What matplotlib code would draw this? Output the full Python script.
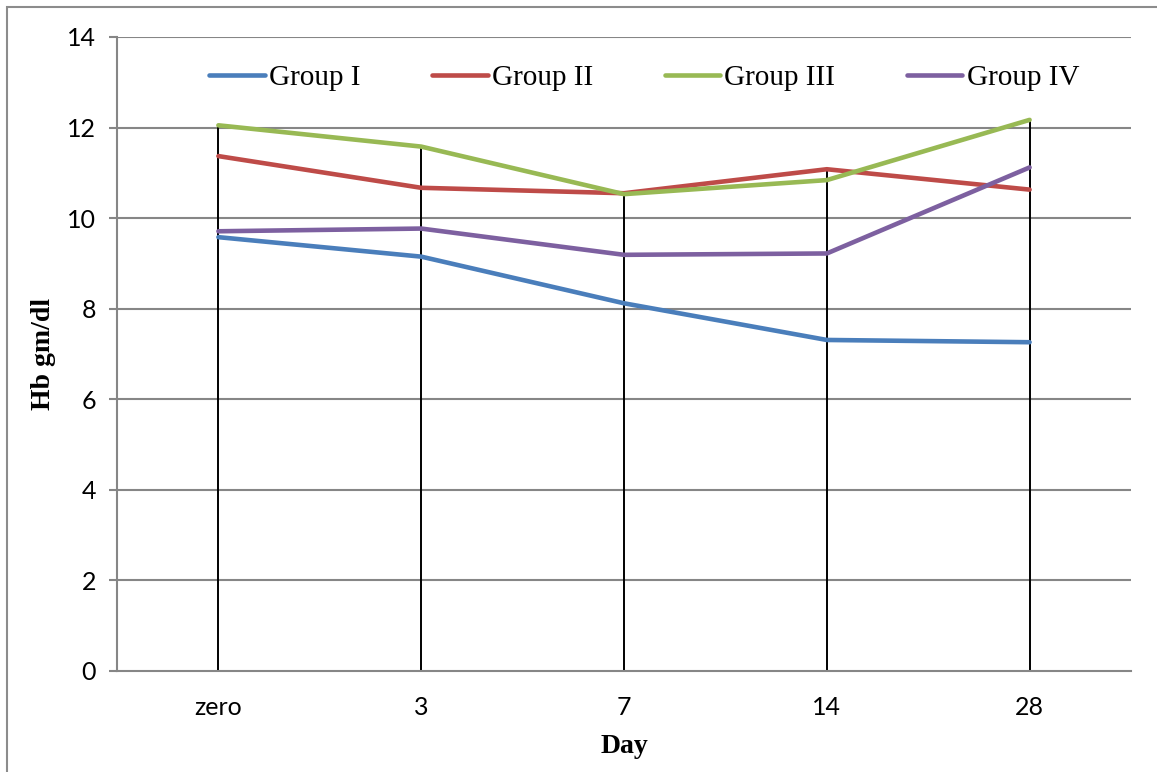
import matplotlib.pyplot as plt
from matplotlib.patches import Rectangle
import numpy as np

days = ['zero', '3', '7', '14', '28']
group_1 = [9.58, 9.15, 8.12, 7.31, 7.26]
group_2 = [11.37, 10.67, 10.55, 11.08, 10.63]
group_3 = [12.05, 11.58, 10.53, 10.84, 12.17]
group_4 = [9.71, 9.77, 9.19, 9.22, 11.12]
names = ['Group I', 'Group II', 'Group III', 'Group IV']
colors = ['#4a7ebb', '#be4b48', '#98b954', '#7d60a0']

series = [group_1, group_2, group_3, group_4]
x = np.arange(len(days))

fig = plt.figure(figsize=(11.57, 7.72), dpi=100)
ax = fig.add_axes([117 / 1157, 1 - 671 / 772, 1014 / 1157, 634 / 772])

# outer chart frame (only top/left fall inside the image)
fig.patches.append(Rectangle((7 / 1157, -0.05), 1.1, 1.05 - 7 / 772,
                             transform=fig.transFigure, fill=False,
                             edgecolor='#8c8c8c', linewidth=1.5))

for y in range(2, 15, 2):
    ax.axhline(y, color='#868686', linewidth=1.5, zorder=0)

# drop lines from the highest series down to the axis
tops = np.max(np.array(series), axis=0)
ax.vlines(x, 0, tops, color='black', linewidth=1.4, zorder=1)

for vals, name, c in zip(series, names, colors):
    ax.plot(x, vals, color=c, linewidth=3.3, label=name, solid_capstyle='round', zorder=2)

ax.set_xlim(-0.5, 4.5)
ax.set_ylim(0, 14)
ax.set_yticks(range(0, 15, 2))
ax.set_xticks(x)
ax.set_xticklabels(days)

for s in ['top', 'right']:
    ax.spines[s].set_visible(False)
ax.spines['left'].set_color('#868686')
ax.spines['bottom'].set_color('#868686')
ax.spines['left'].set_linewidth(1.5)
ax.spines['bottom'].set_linewidth(1.5)

ax.tick_params(axis='y', length=6, width=1.5, color='#868686', pad=9,
               labelsize=18, labelfontfamily='Lato')
ax.tick_params(axis='x', length=0, pad=18, labelsize=18, labelfontfamily='Lato')

ax.set_xlabel('Day', family='Liberation Serif', fontweight='bold', fontsize=20, labelpad=11)
ax.set_ylabel('Hb gm/dl', family='Liberation Serif', fontweight='bold', fontsize=20, labelpad=8)

leg = ax.legend(loc='upper center', bbox_to_anchor=(0.52, 0.998), ncol=4, frameon=False,
                prop={'family': 'Liberation Serif', 'size': 21},
                handlelength=1.9, handletextpad=0.15, columnspacing=2.45)

plt.savefig('out.png', dpi=100)
